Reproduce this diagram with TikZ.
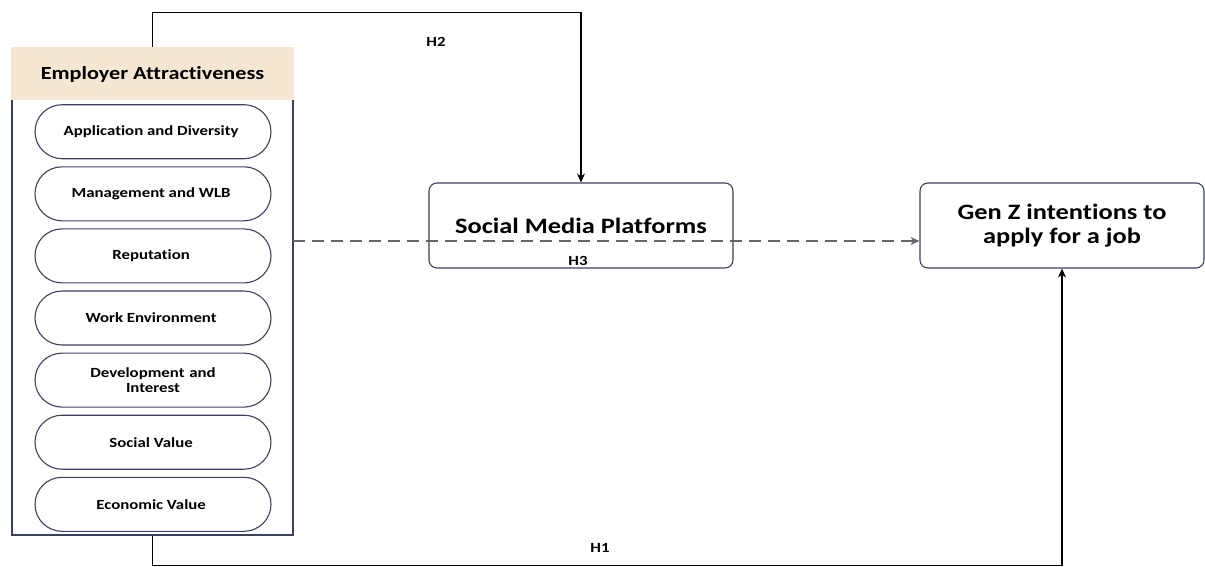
\documentclass[tikz,border=0pt]{standalone}
\usepackage{fontspec}
\setmainfont[FakeStretch=1.2, Ligatures=NoCommon]{Carlito}
\usetikzlibrary{matrix,arrows.meta}
\definecolor{boxline}{HTML}{3C4160}
\definecolor{headfill}{HTML}{F6E7D3}
\definecolor{dashline}{HTML}{666666}

\begin{document}
\begin{tikzpicture}[x=1pt, y=-1pt, >={Stealth[length=9pt,width=8pt]}, line width=1.1pt,
  factor/.style={draw=boxline, rounded corners=27pt, minimum width=236, minimum height=54, align=center, anchor=center, font=\bfseries\fontsize{14}{15}\selectfont},
  construct/.style={draw=boxline, rounded corners=8pt, minimum height=85, align=center, font=\bfseries\fontsize{22}{24}\selectfont},
  hyp/.style={font=\bfseries\fontsize{14}{16}\selectfont}]
\useasboundingbox (0,0) rectangle (1205,567);
\node (EA) [draw=boxline, minimum width=281, minimum height=487] at (152.5,291.5) {};
\node (head) [fill=headfill, minimum width=283, minimum height=53, font=\bfseries\fontsize{18.5}{20}\selectfont] at (152.5,74) {Employer Attractiveness};
\matrix (F) [matrix of nodes, row sep = 7pt, nodes = {factor}] at (153,318)
{
  Application and Diversity \\
  Management and WLB \\
  Reputation \\
  Work Environment \\
  |[text width=170pt]| Development and\break Interest \\
  Social Value \\
  Economic Value \\
};
\node (smp) [construct, minimum width=304] at (581,225.5) {Social Media Platforms};
\node (genz) [construct, minimum width=284] at (1062,225.5) {Gen Z intentions to\\apply for a job};
\coordinate (d) at (293,241);
\draw[->] (head.north) -- ++(0,-34) -| (smp.north);
\draw[->, draw=dashline, dash pattern=on 12pt off 7pt] (d) -- (d -| genz.west);
\draw[->] (EA.south) -- ++(0,30) -| (genz.south);
\node (h2) [hyp] at (436,42) {H2};
\node (h3) [hyp] at (578,261) {H3};
\node (h1) [hyp] at (600,548) {H1};
\end{tikzpicture}
\end{document}
